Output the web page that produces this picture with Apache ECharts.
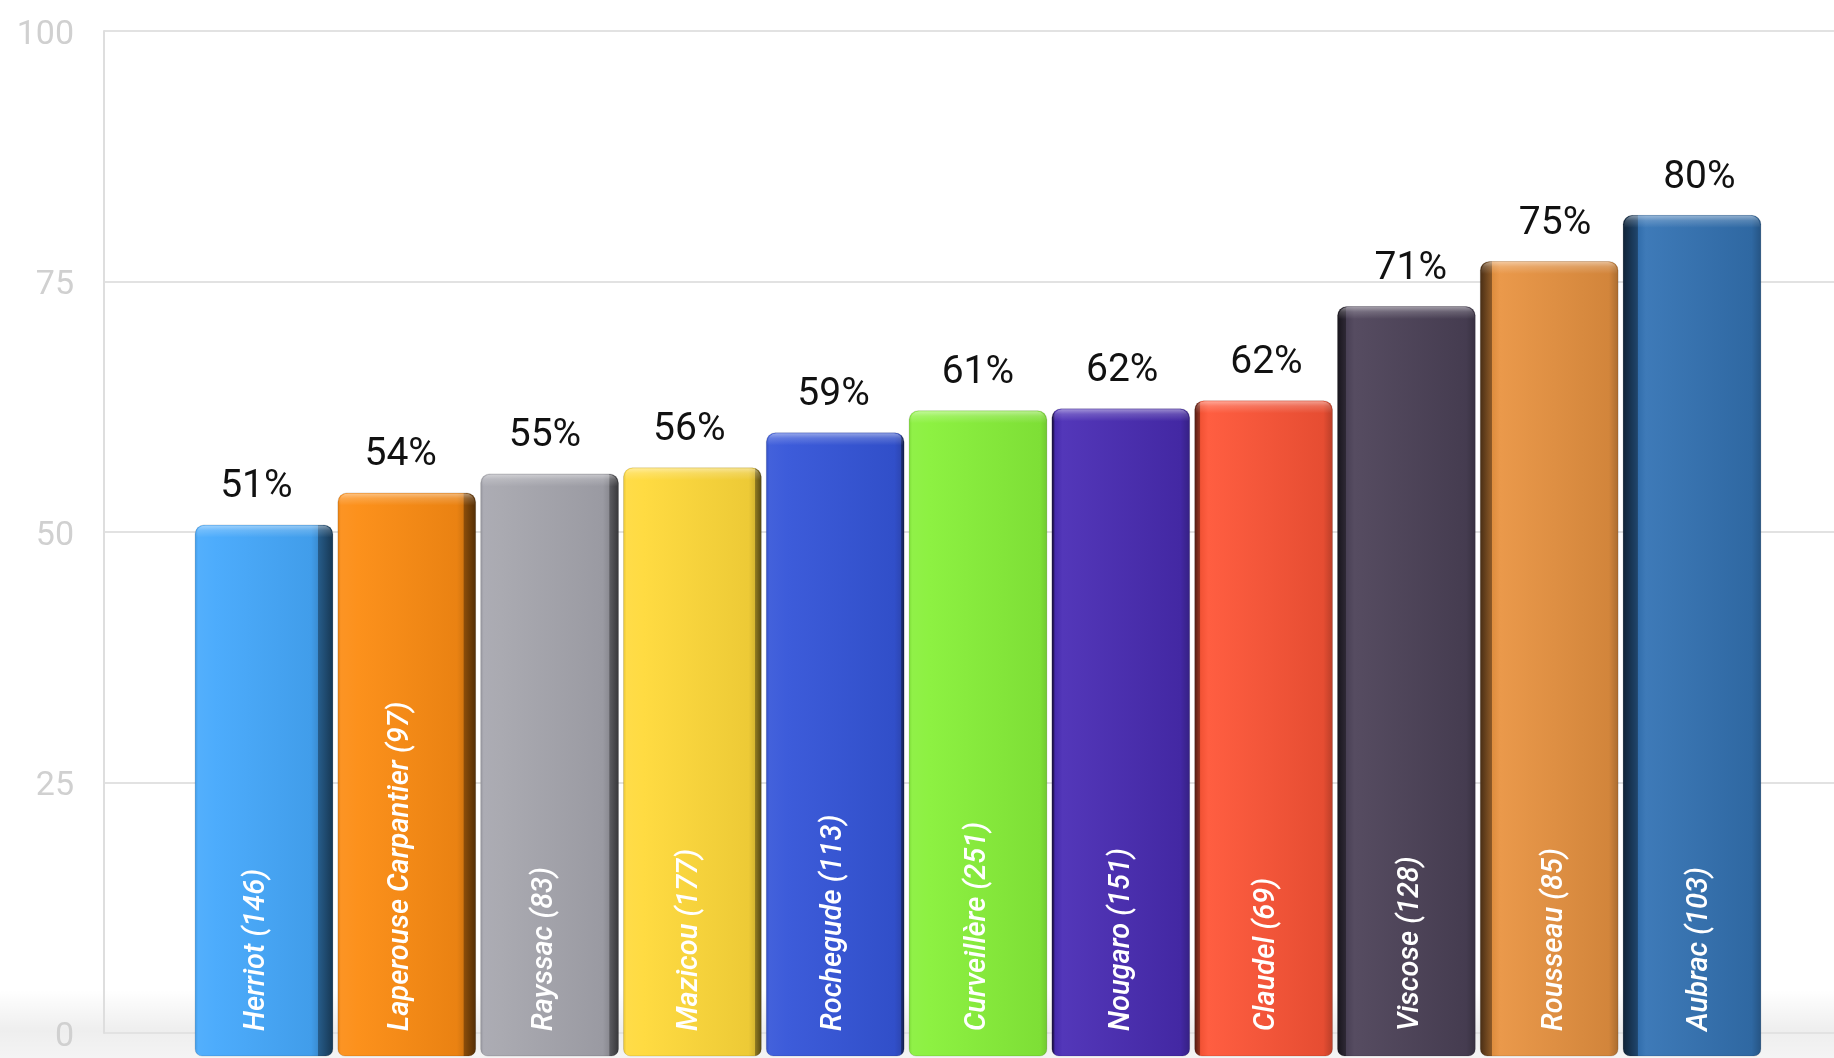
<!DOCTYPE html>
<html>
<head>
<meta charset="utf-8">
<script src="https://cdn.jsdelivr.net/npm/echarts@6/dist/echarts.min.js"></script>
<style>
html,body{margin:0;padding:0;background:#ffffff;}
#chart{width:1834px;height:1058px;}
</style>
</head>
<body>
<div id="chart"></div>
<script>
// ---- data ----
const categories = ['Herriot (146)', 'Laperouse Carpantier (97)', 'Rayssac (83)', 'Mazicou (177)', 'Rochegude (113)', 'Curveillère (251)', 'Nougaro (151)', 'Claudel (69)', 'Viscose (128)', 'Rousseau (85)', 'Aubrac (103)'];
const barHeights = [50.7, 53.9, 55.8, 56.4, 59.9, 62.1, 62.3, 63.1, 72.5, 77.0, 81.6];
const percentLabels = [51, 54, 55, 56, 59, 61, 62, 62, 71, 75, 80];
const barColors = ['#46a9fc', '#fc8c13', '#a6a6ae', '#ffd93a', '#3555d8', '#88f03a', '#4a2cb5', '#ff5637', '#4d4359', '#e99441', '#3473b4'];
const yMin = 0, yMax = 100, yInterval = 25;

// ---- helpers ----
function mix(hex, toWhite, t) {
  const n = parseInt(hex.slice(1), 16);
  let r = (n >> 16) & 255, g = (n >> 8) & 255, b = n & 255;
  const T = toWhite ? 255 : 0;
  r = Math.round(r + (T - r) * t);
  g = Math.round(g + (T - g) * t);
  b = Math.round(b + (T - b) * t);
  return 'rgb(' + r + ',' + g + ',' + b + ')';
}

const chart = echarts.init(document.getElementById('chart'));

const seriesData = barHeights.map((v, i) => [i, v]);

const option = {
  animation: false,
  backgroundColor: '#ffffff',
  graphic: [{
    type: 'rect',
    silent: true,
    z: -10,
    shape: { x: 0, y: 990, width: 1834, height: 68 },
    style: {
      fill: new echarts.graphic.LinearGradient(0, 0, 0, 1, [
        { offset: 0, color: 'rgba(0,0,0,0)' },
        { offset: 0.6, color: 'rgba(0,0,0,0.065)' },
        { offset: 1, color: 'rgba(0,0,0,0.045)' }
      ])
    }
  }],
  grid: [
    { left: 104, right: 0, top: 31, bottom: 25 },
    { left: 192.6, right: 70.6, top: 31, bottom: 25 }
  ],
  xAxis: [
    { gridIndex: 0, type: 'value', min: 0, max: 1, show: false },
    { gridIndex: 1, type: 'category', data: categories, show: false }
  ],
  yAxis: [
    {
      gridIndex: 0, type: 'value', min: yMin, max: yMax, interval: yInterval,
      axisLine: { show: true, lineStyle: { color: '#dedede', width: 2 } },
      axisTick: { show: false },
      axisLabel: { color: '#d0d0d0', fontSize: 34, fontFamily: 'Roboto', margin: 30, verticalAlign: 'top', lineHeight: 8 },
      splitLine: { show: true, lineStyle: { color: '#e2e2e2', width: 2 } }
    },
    { gridIndex: 1, type: 'value', min: yMin, max: yMax, interval: yInterval, show: false }
  ],
  series: [{
    type: 'custom',
    xAxisIndex: 1,
    yAxisIndex: 1,
    clip: false,
    data: seriesData,
    renderItem: function (params, api) {
      const i = api.value(0);
      const v = api.value(1);
      const topPt = api.coord([i, v]);
      const zeroPt = api.coord([i, 0]);
      const band = api.size([1, 0])[0];
      const w = band * 0.965;
      const cx = topPt[0];
      const left = cx - w / 2;
      const top = topPt[1];
      const bottom = api.getHeight() - 2;
      const h = bottom - top;
      const c = barColors[i];
      const off = cx - 990;
      const side = Math.min(18, Math.abs(off) * 0.021);
      const sideRight = off < 0;
      const sf = side / w;
      const faceLeft = sideRight ? left : left + side;
      const faceW = w - side;
      const faceCx = faceLeft + faceW / 2;

      let stops;
      if (sideRight) {
        stops = [
          { offset: 0, color: mix(c, false, 0.1) },
          { offset: 0.025, color: mix(c, true, 0.07) },
          { offset: 0.15, color: mix(c, true, 0.04) },
          { offset: Math.max(0.16, 1 - sf - 0.05), color: mix(c, false, 0.07) },
          { offset: Math.max(0.17, 1 - sf - 0.004), color: mix(c, false, 0.16) },
          { offset: Math.max(0.18, 1 - sf), color: mix(c, false, 0.45) },
          { offset: 1, color: mix(c, false, 0.68) }
        ];
      } else {
        stops = [
          { offset: 0, color: mix(c, false, 0.7) },
          { offset: Math.min(0.85, sf), color: mix(c, false, 0.4) },
          { offset: Math.min(0.86, sf + 0.004), color: mix(c, false, 0.05) },
          { offset: Math.min(0.87, sf + 0.06), color: mix(c, true, 0.05) },
          { offset: 0.93, color: mix(c, false, 0.1) },
          { offset: 1, color: mix(c, false, 0.28) }
        ];
      }

      return {
        type: 'group',
        children: [
          {
            type: 'rect',
            shape: { x: left, y: top, width: w, height: h, r: [9, 9, 7, 7] },
            style: {
              fill: new echarts.graphic.LinearGradient(0, 0, 1, 0, stops),
              stroke: 'rgba(0,0,0,0.12)',
              lineWidth: 1
            }
          },
          {
            type: 'rect',
            shape: { x: left + 1, y: top + 0.5, width: w - 2, height: 12, r: [9, 9, 0, 0] },
            style: {
              fill: new echarts.graphic.LinearGradient(0, 0, 0, 1, [
                { offset: 0, color: 'rgba(255,255,255,0.45)' },
                { offset: 0.4, color: 'rgba(255,255,255,0.18)' },
                { offset: 1, color: 'rgba(255,255,255,0)' }
              ])
            }
          },
          {
            type: 'text',
            x: faceCx,
            y: top - 18,
            style: {
              text: percentLabels[i] + '%',
              fill: '#111111',
              fontSize: 39,
              fontFamily: 'Roboto',
              align: 'center',
              verticalAlign: 'bottom'
            }
          },
          {
            type: 'text',
            x: faceCx,
            y: zeroPt[1] - 2,
            rotation: Math.PI / 2,
            style: {
              text: categories[i],
              fill: '#ffffff',
              fontSize: 29,
              fontStyle: 'italic',
              fontWeight: 500,
              fontFamily: 'Roboto',
              align: 'left',
              verticalAlign: 'middle'
            }
          }
        ]
      };
    }
  }]
};

chart.setOption(option);
</script>
</body>
</html>
